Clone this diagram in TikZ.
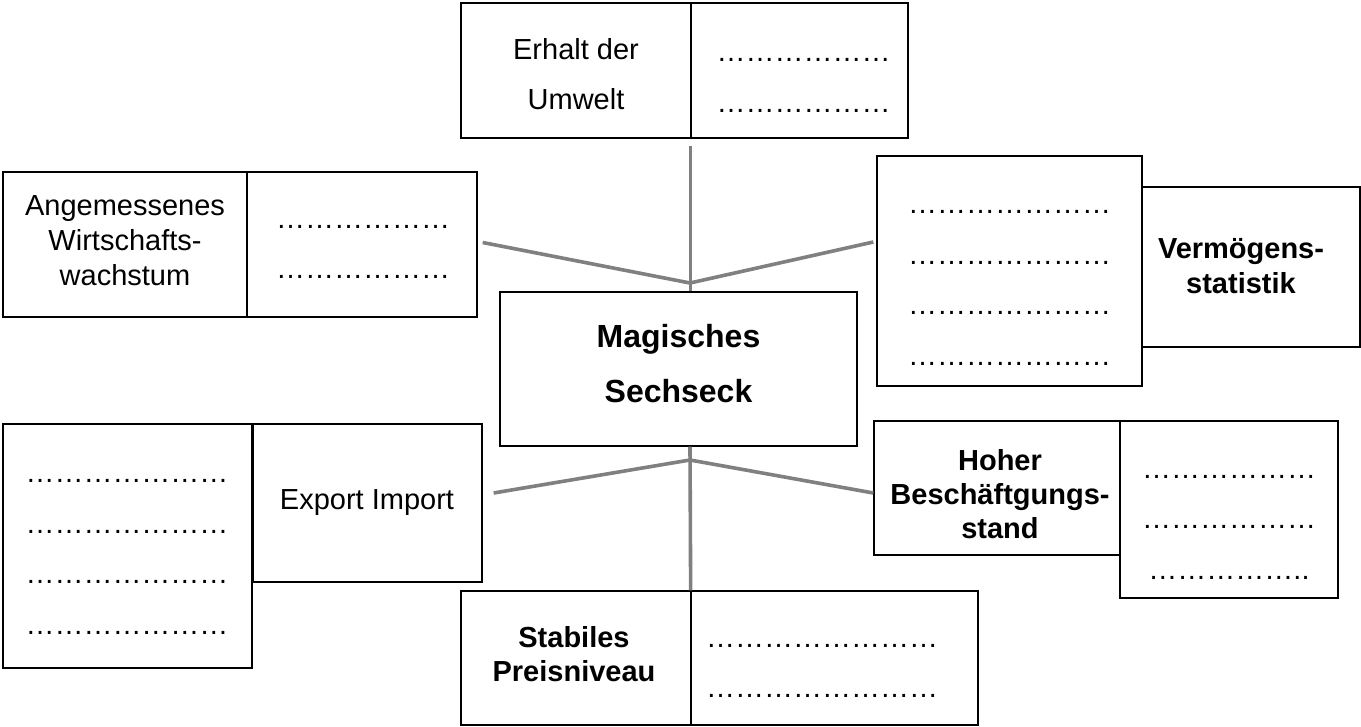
\documentclass[tikz,border=0pt]{standalone}
\usepackage{fontspec}
\setmainfont{Liberation Sans}
\definecolor{conngray}{RGB}{128,128,128}
\begin{document}
\begin{tikzpicture}[x=1pt,y=-1pt,
  box/.style={draw=black, line width=1.3pt, inner sep=0pt, fill=none},
  lbl/.style={inner sep=0pt, align=center, font=\fontsize{29}{35}\selectfont},
  blbl/.style={lbl, font=\fontsize{29}{34}\selectfont\bfseries},
  dots/.style={inner sep=0pt, align=center, font=\fontsize{29}{50.5}\selectfont},
  conn/.style={draw=conngray, line width=3.6pt}]
\useasboundingbox (0,0) rectangle (1361,727);

% boxes
\node[box, minimum width=230pt, minimum height=135pt] (erhL) at (576,70.5) {};
\node[box, minimum width=217pt, minimum height=135pt] (erhR) at (799.5,70.5) {};
\node[box, minimum width=244pt, minimum height=145pt] (agL) at (125,244.5) {};
\node[box, minimum width=230pt, minimum height=145pt] (agR) at (362,244.5) {};
\node[box, minimum width=265pt, minimum height=230pt] (vmD) at (1009.5,271) {};
\node[box, minimum width=218pt, minimum height=160pt] (vmL) at (1251,267) {};
\node[box, minimum width=357pt, minimum height=154pt] (ctr) at (678.5,369) {};
\node[box, minimum width=249pt, minimum height=244pt] (exD) at (127.5,546) {};
\node[box, minimum width=229pt, minimum height=158pt] (exL) at (367.5,503) {};
\node[box, minimum width=246pt, minimum height=134pt] (hoL) at (997,488) {};
\node[box, minimum width=218pt, minimum height=177pt] (hoD) at (1229,509.5) {};
\node[box, minimum width=230pt, minimum height=134pt] (stL) at (576,658) {};
\node[box, minimum width=287pt, minimum height=134pt] (stR) at (834.5,658) {};

% labels
\node[lbl, font=\fontsize{29}{50}\selectfont] (erhT) at (576,74) {Erhalt der\\Umwelt};
\node[dots, font=\fontsize{29}{51}\selectfont] (erhP) at (803.5,85) {……………… \\……………… };
\node[lbl] (agT) at (125,241) {Angemessenes\\Wirtschafts-\\wachstum};
\node[dots, font=\fontsize{29}{50}\selectfont] (agP) at (363,252) {………………\\………………};
\node[dots] (vmP) at (1009.5,288) {…………………\\…………………\\…………………\\…………………};
\node[blbl, font=\fontsize{29}{35}\selectfont\bfseries] (vmT) at (1241,266) {Vermögens-\\statistik};
\node[blbl, font=\fontsize{32}{55}\selectfont\bfseries] (ctrT) at (678.5,364) {Magisches\\Sechseck};
\node[dots] (exP) at (127,557) {…………………\\…………………\\…………………\\…………………};
\node[lbl] (exT) at (367,502.5) {Export Import};
\node[blbl] (hoT) at (1000,494) {Hoher\\Beschäftgungs-\\stand};
\node[dots] (hoP) at (1229,527) {………………\\………………\\……………..};
\node[blbl] (stT) at (574,654) {Stabiles\\Preisniveau};
\node[dots, font=\fontsize{29}{50}\selectfont] (stP) at (822,671) {……………………\\……………………};

% junctions
\coordinate (jt) at (690,283);
\coordinate (jb) at (690,460);

% connectors
\draw[conn] ([xshift=-1pt,yshift=-7pt]erhL.south east) -- ([xshift=-1pt]erhL.south east |- ctr.north);
\draw[conn] ([xshift=5pt,yshift=2pt]agR.east) -- (jt);
\draw[conn] ([xshift=-3pt,yshift=29pt]vmD.west) -- (jt);
\draw[conn] (jb |- ctr.south) -- ([xshift=-1pt]stL.north east);
\draw[conn] ([xshift=11pt,yshift=10pt]exL.east) -- (jb);
\draw[conn] ([yshift=-5pt]hoL.west) -- (jb);
\end{tikzpicture}
\end{document}
